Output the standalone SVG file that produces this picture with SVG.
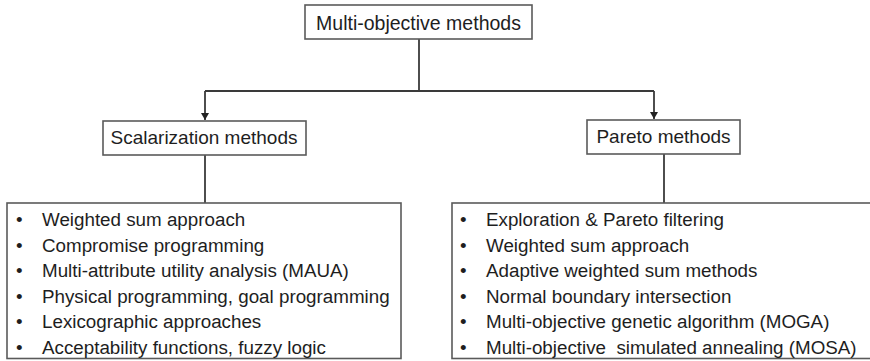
<svg xmlns="http://www.w3.org/2000/svg" width="870" height="361" viewBox="0 0 870 361">
<defs>
<style>
.box{fill:#fff;stroke:#5a5a5a;stroke-width:1.6}
.t{font-family:"Liberation Sans",Arial,sans-serif;font-size:19px;fill:#1e1e1e}
.l{font-size:18.8px}
.c{text-anchor:middle}
.ln{fill:none;stroke:#3a3a3a;stroke-width:1.8}
</style>
<marker id="ad" markerUnits="userSpaceOnUse" markerWidth="8" markerHeight="8" refX="4" refY="8" viewBox="0 0 8 8">
<path d="M0,1 L8,1 L4,8 Z" fill="#222"/>
</marker>
</defs>
<rect width="870" height="361" fill="#fff"/>
<g id="connectors">
<path class="ln" d="M419,39 V91"/>
<path class="ln" d="M205,91 H654"/>
<path class="ln" d="M205,91 V120" marker-end="url(#ad)"/>
<path class="ln" d="M654,91 V119" marker-end="url(#ad)"/>
<path class="ln" d="M205,155 V203"/>
<path class="ln" d="M664,154 V203"/>
</g>
<g id="root">
<rect class="box" x="305" y="5" width="227" height="34"/>
<text class="t c" x="418.5" y="29.5" style="font-size:19.5px">Multi-objective methods</text>
</g>
<g id="scalarization">
<rect class="box" x="103" y="121" width="203" height="34"/>
<text class="t c" x="204" y="143.5">Scalarization methods</text>
</g>
<g id="pareto">
<rect class="box" x="587" y="120" width="153" height="34"/>
<text class="t c" x="663.5" y="143">Pareto methods</text>
</g>
<g id="scalarization-list">
<rect class="box" x="7" y="203" width="394" height="155.5"/>
<g class="t l">
<text x="16" y="226">•</text><text x="42" y="226">Weighted sum approach</text>
<text x="16" y="251.5">•</text><text x="42" y="251.5">Compromise programming</text>
<text x="16" y="277">•</text><text x="42" y="277">Multi-attribute utility analysis (MAUA)</text>
<text x="16" y="302.5">•</text><text x="42" y="302.5">Physical programming, goal programming</text>
<text x="16" y="328">•</text><text x="42" y="328">Lexicographic approaches</text>
<text x="16" y="353.5">•</text><text x="42" y="353.5">Acceptability functions, fuzzy logic</text>
</g>
</g>
<g id="pareto-list">
<rect class="box" x="452" y="203" width="422" height="155.5"/>
<g class="t l">
<text x="460" y="226">•</text><text x="486" y="226">Exploration &amp; Pareto filtering</text>
<text x="460" y="251.5">•</text><text x="486" y="251.5">Weighted sum approach</text>
<text x="460" y="277">•</text><text x="486" y="277">Adaptive weighted sum methods</text>
<text x="460" y="302.5">•</text><text x="486" y="302.5">Normal boundary intersection</text>
<text x="460" y="328">•</text><text x="486" y="328">Multi-objective genetic algorithm (MOGA)</text>
<text x="460" y="353.5">•</text><text x="486" y="353.5" xml:space="preserve">Multi-objective  simulated annealing (MOSA)</text>
</g>
</g>
</svg>
